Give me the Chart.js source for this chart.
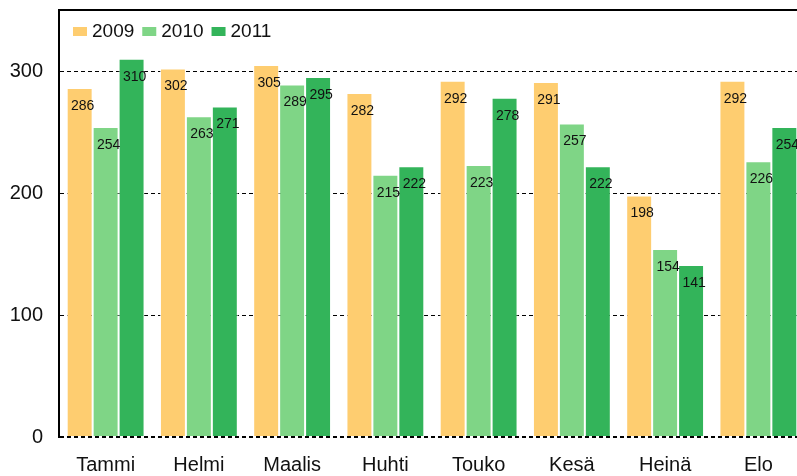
<!DOCTYPE html>
<html>
<head>
<meta charset="utf-8">
<script src="https://cdn.jsdelivr.net/npm/chart.js@4/dist/chart.umd.min.js"></script>
<style>
  html, body { margin: 0; padding: 0; background: #fff; }
  #wrap { width: 797px; height: 476px; overflow: hidden; position: relative; }
  canvas { display: block; }
</style>
</head>
<body>
<div id="wrap"><canvas id="chart" width="820" height="500"></canvas></div>
<script>
const months = ["Tammi", "Helmi", "Maalis", "Huhti", "Touko", "Kesä", "Heinä", "Elo"];
const years = ["2009", "2010", "2011"];
const values2009 = [286, 302, 305, 282, 292, 291, 198, 292];
const values2010 = [254, 263, 289, 215, 223, 257, 154, 226];
const values2011 = [310, 271, 295, 222, 278, 222, 141, 254];
const yTicks = [0, 100, 200, 300];

const colors = ["#fecd70", "#7fd586", "#33b45a"];

// arvot palkkien sisään
const valueLabels = {
  id: "valueLabels",
  afterDatasetsDraw(chart) {
    const ctx = chart.ctx;
    ctx.save();
    ctx.font = "14px 'Liberation Sans', Arial, sans-serif";
    ctx.fillStyle = "#111";
    ctx.textAlign = "center";
    ctx.textBaseline = "middle";
    chart.data.datasets.forEach((ds, i) => {
      chart.getDatasetMeta(i).data.forEach((bar, j) => {
        ctx.fillText(String(ds.data[j]), bar.x + 3, bar.y + 18);
      });
    });
    ctx.restore();
  }
};

// selite ja yläreuna
const frame = {
  id: "frame",
  afterDraw(chart) {
    const ctx = chart.ctx;
    const area = chart.chartArea;
    ctx.save();
    ctx.strokeStyle = "#000";
    ctx.lineWidth = 2;
    ctx.beginPath();
    ctx.moveTo(area.left - 1, area.top);
    ctx.lineTo(area.right, area.top);
    ctx.stroke();

    ctx.font = "19px 'Liberation Sans', Arial, sans-serif";
    ctx.textBaseline = "middle";
    let x = area.left + 14;
    chart.data.datasets.forEach((ds) => {
      ctx.fillStyle = ds.backgroundColor;
      ctx.fillRect(x, 27, 14, 9);
      ctx.fillStyle = "#111";
      ctx.fillText(ds.label, x + 19, 32);
      x += 19 + ctx.measureText(ds.label).width + 8;
    });
    ctx.restore();
  }
};

new Chart(document.getElementById("chart"), {
  type: "bar",
  data: {
    labels: months,
    datasets: [values2009, values2010, values2011].map((d, i) => ({
      label: years[i],
      data: d,
      backgroundColor: colors[i],
      borderColor: "rgba(255,255,255,0.75)",
      borderWidth: 1,
      categoryPercentage: 0.835,
      barPercentage: 1.0
    }))
  },
  options: {
    responsive: false,
    animation: false,
    layout: { padding: { top: 10, right: 15, left: 0, bottom: 0 } },
    plugins: { legend: { display: false }, tooltip: { enabled: false } },
    scales: {
      x: {
        grid: { display: false, drawTicks: false },
        border: { display: false },
        ticks: {
          color: "#111",
          padding: 16,
          font: { family: "'Liberation Sans', Arial, sans-serif", size: 20 }
        },
        afterFit(scale) {
          scale.height = 63;
          scale.paddingLeft = 0;
          scale.paddingRight = 0;
        }
      },
      y: {
        min: 0,
        max: 350,
        afterBuildTicks(scale) {
          scale.ticks = yTicks.map((v) => ({ value: v }));
        },
        grid: {
          color: "#000",
          drawTicks: false,
          lineWidth: (c) => (c.tick && c.tick.value === 0 ? 2 : 1)
        },
        border: { display: true, color: "#000", width: 2, dash: [4, 3] },
        ticks: {
          color: "#111",
          padding: 16,
          font: { family: "'Liberation Sans', Arial, sans-serif", size: 20 }
        },
        afterFit(scale) {
          scale.width = 59;
          scale.paddingTop = 0;
          scale.paddingBottom = 0;
        }
      }
    }
  },
  plugins: [valueLabels, frame]
});
</script>
</body>
</html>
